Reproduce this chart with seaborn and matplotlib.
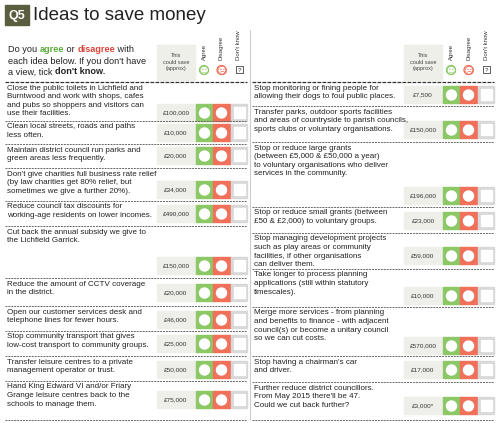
import matplotlib
matplotlib.use("Agg")
import matplotlib.pyplot as plt
import seaborn as sns
from matplotlib.patches import Rectangle, Circle

sns.set_style("white")
plt.rcParams['font.family'] = ['Liberation Sans', 'DejaVu Sans']

# Left column ideas and savings
left_ideas = [
    "Close the public toilets in Lichfield and\nBurntwood and work with shops, cafes\nand pubs so shoppers and visitors can\nuse their facilities.",
    "Clean local streets, roads and paths\nless often.",
    "Maintain district council run parks and\ngreen areas less frequently.",
    "Don't give charities full business rate relief\n(by law charities get 80% relief, but\nsometimes we give a further 20%).",
    "Reduce council tax discounts for\nworking-age residents on lower incomes.",
    "Cut back the annual subsidy we give to\nthe Lichfield Garrick.",
    "Reduce the amount of CCTV coverage\nin the district.",
    "Open our customer services desk and\ntelephone lines for fewer hours.",
    "Stop community transport that gives\nlow-cost transport to community groups.",
    "Transfer leisure centres to a private\nmanagement operator or trust.",
    "Hand King Edward VI and/or Friary\nGrange leisure centres back to the\nschools to manage them.",
]
left_savings = ["£100,000", "£10,000", "£20,000", "£34,000", "£490,000", "£150,000",
                "£20,000", "£46,000", "£25,000", "£50,000", "£75,000"]

right_ideas = [
    "Stop monitoring or fining people for\nallowing their dogs to foul public places.",
    "Transfer parks, outdoor sports facilities\nand areas of countryside to parish councils,\nsports clubs or voluntary organisations.",
    "Stop or reduce large grants\n(between £5,000 & £50,000 a year)\nto voluntary organisations who deliver\nservices in the community.",
    "Stop or reduce small grants (between\n£50 & £2,000) to voluntary groups.",
    "Stop managing development projects\nsuch as play areas or community\nfacilities, if other organisations\ncan deliver them.",
    "Take longer to process planning\napplications (still within statutory\ntimescales).",
    "Merge more services - from planning\nand benefits to finance - with adjacent\ncouncil(s) or become a unitary council\nso we can cut costs.",
    "Stop having a chairman's car\nand driver.",
    "Further reduce district councillors.\nFrom May 2015 there'll be 47.\nCould we cut back further?",
]
right_savings = ["£7,500", "£150,000", "£196,000", "£23,000", "£59,000", "£10,000",
                 "£570,000", "£17,000", "£3,000*"]

# row layout (pixel): top, bottom, y of amount/boxes
left_rows = [(83, 121, 113), (122, 144, 133), (145, 168, 156), (169, 201, 190),
             (202, 226, 214), (227, 278, 266), (279, 306, 293), (307, 331, 320),
             (332, 356, 344), (357, 381, 370), (382, 420, 400)]
right_rows = [(83, 106, 95), (107, 142, 130), (143, 207, 196), (208, 233, 221),
              (234, 269, 256), (270, 307, 296), (308, 356, 346), (357, 382, 370),
              (383, 420, 406)]

GREEN = "#8cc866"
RED = "#f0705a"
GREY = "#d8d8d8"
BOXBG = "#efefea"

fig = plt.figure(figsize=(5.0, 4.23), dpi=100)
ax = fig.add_axes([0, 0, 1, 1])
ax.set_xlim(0, 500)
ax.set_ylim(423, 0)
ax.axis("off")
renderer = fig.canvas.get_renderer()

# title
ax.add_patch(Rectangle((5, 5), 24, 20, color="#5b5e3e"))
ax.text(17, 15.5, "Q5", color="white", fontsize=9, fontweight="bold", ha="center", va="center")
ax.text(33, 15, "Ideas to save money", fontsize=13.5, va="center", color="#222")


def runs(x, y, parts, fs=6.6):
    # place coloured/bold pieces one after another on a line
    for txt, color, weight in parts:
        t = ax.text(x, y, txt, fontsize=fs, va="center", color=color, fontweight=weight)
        bb = t.get_window_extent(renderer)
        x += bb.width * 500 / fig.bbox.width


runs(8, 50, [("Do you ", "#222", "normal"), ("agree", "#5aaa3c", "bold"),
             (" or ", "#222", "normal"), ("disagree", "#d8453a", "bold"),
             (" with", "#222", "normal")])
runs(8, 61, [("each idea below. If you don't have", "#222", "normal")])
runs(8, 72, [("a view, tick ", "#222", "normal"), ("don't know.", "#222", "bold")])


def header(x0):
    ax.add_patch(Rectangle((x0, 45), 38, 35, color=BOXBG))
    ax.text(x0 + 19, 62, "This\ncould save\n(approx)", fontsize=4.0, ha="center", va="center",
            color="#444", linespacing=1.3)
    for i, (lab, c) in enumerate([("Agree", GREEN), ("Disagree", RED), ("Don't know", None)]):
        cx = x0 + 47 + i * 17.5
        ax.text(cx, 60, lab, fontsize=4.3, rotation=90, ha="center", va="bottom", color="#333")
        if c:
            ax.add_patch(Circle((cx, 70), 4.5, fill=False, ec=c, lw=0.9))
            ax.text(cx, 70.3, "☺" if i == 0 else "☹", color=c, fontsize=7.5, ha="center",
                    va="center", family="DejaVu Sans")
        else:
            ax.add_patch(Rectangle((cx - 3.5, 66.5), 7, 7, fill=False, ec="#444", lw=0.6))
            ax.text(cx, 70.3, "?", fontsize=4.5, ha="center", va="center")


def column(x_text, x0, x_end, ideas, savings, rows):
    ax.plot([x_text - 2, x_end], [82, 82], color="#333", lw=0.9, ls=(0, (3, 1)))
    for idea, amt, (top, bot, yb) in zip(ideas, savings, rows):
        ax.text(x_text, top + 1.5, idea, fontsize=5.8, va="top", ha="left", linespacing=1.33,
                color="#222")
        ax.add_patch(Rectangle((x0, yb - 8.5), 38, 17, color=BOXBG))
        ax.text(x0 + 19, yb, amt, fontsize=4.6, ha="center", va="center", color="#333")
        ax.add_patch(Rectangle((x0 + 39, yb - 8.5), 17, 17, color=GREEN))
        ax.add_patch(Rectangle((x0 + 56, yb - 8.5), 17, 17, color=RED))
        ax.add_patch(Rectangle((x0 + 73.5, yb - 8.5), 16.5, 17, color=GREY))
        ax.add_patch(Circle((x0 + 47.5, yb), 5, fc="white", ec="white"))
        ax.add_patch(Circle((x0 + 64.5, yb), 5, fc="white", ec="white"))
        ax.add_patch(Rectangle((x0 + 76.5, yb - 5.5), 11, 11, fc="white", ec="white"))
        ax.plot([x_text - 2, x_end], [bot, bot], color="#666", lw=0.7, ls=(0, (2, 1)))


header(157)
header(404)
column(7, 157, 247, left_ideas, left_savings, left_rows)
column(254, 404, 494, right_ideas, right_savings, right_rows)
ax.plot([250, 250], [30, 420], color="#ccc", lw=0.8)

fig.savefig("out.png", dpi=100)
